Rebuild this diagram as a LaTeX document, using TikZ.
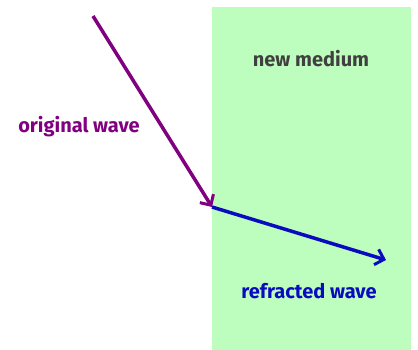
\documentclass[tikz,border=0pt]{standalone}
\usepackage{fontspec}
\setmainfont{Fira Sans}
\usetikzlibrary{arrows.meta}
\definecolor{mediumgreen}{RGB}{189,253,189}
\definecolor{wavepurple}{RGB}{128,0,128}
\definecolor{waveblue}{RGB}{10,10,190}
\definecolor{labelgray}{RGB}{64,64,64}
\tikzset{
  ray/.style={line width=3.5pt, -{Straight Barb[length=8pt,width=16pt,line width=3pt]}},
  lbl/.style={font=\fontsize{20}{24}\selectfont\bfseries, inner sep=0pt}
}
\begin{document}
\begin{tikzpicture}[x=1pt,y=-1pt]
\useasboundingbox (0,0) rectangle (418,350);
\fill[mediumgreen] (212,7) rectangle (411,350);
\coordinate (src) at (93,16);
\coordinate (hit) at (212,207);
\coordinate (dst) at (386,260);
\draw[ray, wavepurple] (src) -- (hit);
\draw[ray, waveblue] (hit) -- (dst);
\node[lbl, text=wavepurple] (orig) at (79,127) {original wave};
\node[lbl, text=labelgray] (newm) at (311,59) {new medium};
\node[lbl, text=waveblue] (refr) at (309,291) {refracted wave};
\end{tikzpicture}
\end{document}
